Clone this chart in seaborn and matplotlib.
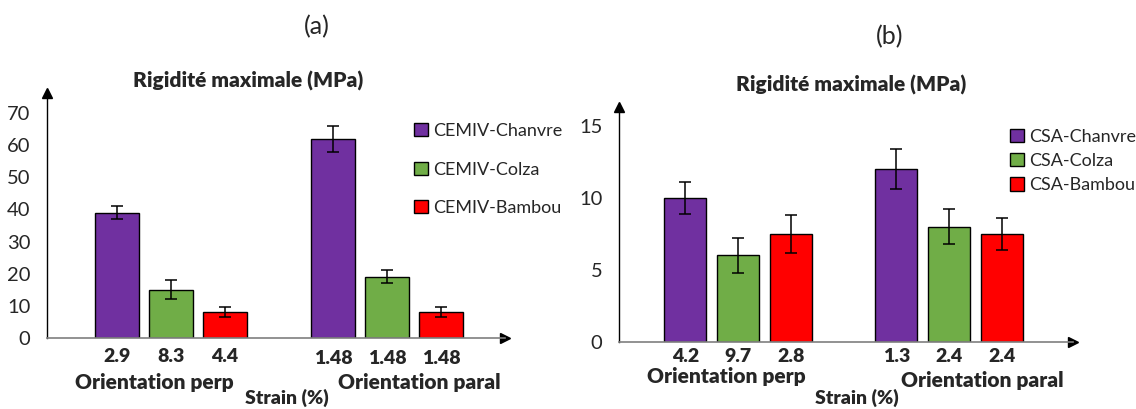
import matplotlib
matplotlib.use("Agg")
import matplotlib.pyplot as plt
import seaborn as sns
import pandas as pd

# Strain categories on the x axis
orientations = ["Orientation perp", "Orientation paral"]

# Panel (a): CEMIV binder
cemiv_series = ["CEMIV-Chanvre", "CEMIV-Colza", "CEMIV-Bambou"]
cemiv_values = [[39, 62], [15, 19], [8, 8]]
cemiv_errors = [[2, 4], [3, 2], [1.5, 1.6]]
cemiv_strain = [["2.9", "1.48"], ["8.3", "1.48"], ["4.4", "1.48"]]

# Panel (b): CSA binder
csa_series = ["CSA-Chanvre", "CSA-Colza", "CSA-Bambou"]
csa_values = [[10, 12], [6, 8], [7.5, 7.5]]
csa_errors = [[1.1, 1.4], [1.2, 1.2], [1.3, 1.1]]
csa_strain = [["4.2", "1.3"], ["9.7", "2.4"], ["2.8", "2.4"]]

colors = ["#7030A0", "#70AD47", "#FF0000"]

sns.set_theme(style="white")
plt.rcParams["font.family"] = ["Lato", "DejaVu Sans"]

BOLD = "heavy"
W, H = 1136, 409
fig = plt.figure(figsize=(W / 100, H / 100), dpi=100)


def frac_box(x0, x1, y_top, y_bot):
    return [x0 / W, 1 - y_bot / H, (x1 - x0) / W, (y_bot - y_top) / H]


def draw_panel(rect, series, values, errors, strain, xlim, ylim, yticks,
               legend_xy, legend_spacing, strain_offsets):
    ax = fig.add_axes(rect)
    rows = []
    for s, vals in zip(series, values):
        for o, v in zip(orientations, vals):
            rows.append({"orientation": o, "series": s, "value": v})
    df = pd.DataFrame(rows)
    sns.barplot(data=df, x="orientation", y="value", hue="series",
                order=orientations, hue_order=series, palette=colors,
                width=0.75, gap=0.2, errorbar=None, edgecolor="black",
                linewidth=1.0, saturation=1, ax=ax)

    # bars are drawn hue by hue, each with one patch per orientation
    patches = [p for p in ax.patches if p.get_height() > 0]
    k = 0
    for si in range(len(series)):
        for oi in range(len(orientations)):
            p = patches[k]
            k += 1
            cx = p.get_x() + p.get_width() / 2
            ax.errorbar(cx, values[si][oi], yerr=errors[si][oi], fmt="none",
                        ecolor="black", elinewidth=1.1, capsize=4,
                        capthick=1.1)
            ax.annotate(strain[si][oi], xy=(cx, 0),
                        xycoords=("data", "axes fraction"),
                        xytext=(0, strain_offsets[oi]),
                        textcoords="offset points",
                        ha="center", va="top", fontsize=14,
                        fontweight=BOLD)

    ax.set_xlim(*xlim)
    ax.set_ylim(*ylim)
    ax.set_yticks(yticks)
    ax.set_yticklabels([str(t) for t in yticks], fontsize=14.5)
    ax.tick_params(axis="y", length=0, pad=12)
    ax.set_xticks([])
    ax.set_xlabel("")
    ax.set_ylabel("")
    for side in ["top", "right"]:
        ax.spines[side].set_visible(False)
    ax.spines["left"].set_color("black")
    ax.spines["left"].set_linewidth(1.0)
    ax.spines["bottom"].set_color("#7f7f7f")
    ax.spines["bottom"].set_linewidth(1.2)
    ax.plot(1, 0, ">", color="black", markersize=7,
            transform=ax.get_yaxis_transform(), clip_on=False)
    ax.plot(0, 1, "^", color="black", markersize=7,
            transform=ax.transAxes, clip_on=False)

    handles, labels = ax.get_legend_handles_labels()
    ax.legend(handles, labels, loc="upper left",
              bbox_to_anchor=(legend_xy[0] / W, 1 - legend_xy[1] / H),
              bbox_transform=fig.transFigure, frameon=False, fontsize=13,
              handlelength=0.75, handleheight=0.75, handletextpad=0.3,
              labelspacing=legend_spacing, borderpad=0, borderaxespad=0)
    return ax


draw_panel(frac_box(47, 505, 93, 338), cemiv_series, cemiv_values,
           cemiv_errors, cemiv_strain, (-0.574, 1.546), (0, 76.2),
           [0, 10, 20, 30, 40, 50, 60, 70], (414, 123), 1.25, (-7, -9))
draw_panel(frac_box(619, 1073, 107, 342), csa_series, csa_values,
           csa_errors, csa_strain, (-0.564, 1.588), (0, 16.3),
           [0, 5, 10, 15], (1010, 129), 0.45, (-4, -4))


def ftext(x, y, s, **kw):
    fig.text(x / W, 1 - y / H, s, ha="center", va="center", **kw)


ftext(317, 27, "(a)", fontsize=18)
ftext(890, 37, "(b)", fontsize=18)
ftext(248, 81, "Rigidité maximale (MPa)", fontsize=15, fontweight=BOLD)
ftext(851, 85, "Rigidité maximale (MPa)", fontsize=15, fontweight=BOLD)

ftext(154, 383, "Orientation perp", fontsize=15, fontweight=BOLD)
ftext(419, 383, "Orientation paral", fontsize=15, fontweight=BOLD)
ftext(287, 398, "Strain (%)", fontsize=14, fontweight=BOLD)

ftext(726, 377, "Orientation perp", fontsize=15, fontweight=BOLD)
ftext(982, 381, "Orientation paral", fontsize=15, fontweight=BOLD)
ftext(857, 398, "Strain (%)", fontsize=14, fontweight=BOLD)

fig.savefig("out.png", dpi=100)
